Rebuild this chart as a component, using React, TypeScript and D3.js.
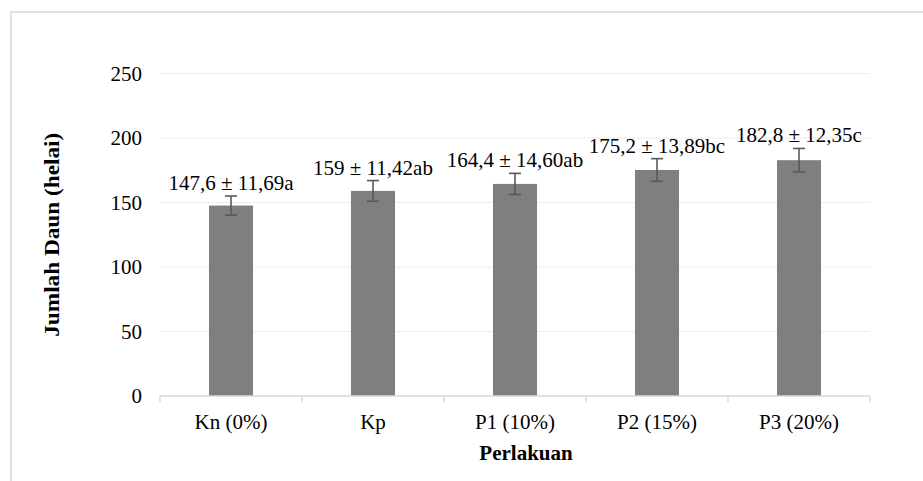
import * as d3 from 'd3';

const categories = ['Kn (0%)', 'Kp', 'P1 (10%)', 'P2 (15%)', 'P3 (20%)'];
const means = [147.6, 159, 164.4, 175.2, 182.8];
const errors = [7.4, 8.0, 8.2, 8.8, 9.1];
const labels = ['147,6 ± 11,69a', '159 ± 11,42ab', '164,4 ± 14,60ab', '175,2 ± 13,89bc', '182,8 ± 12,35c'];
const yTicks = [0, 50, 100, 150, 200, 250];

const W = 923;
const H = 481;
const plot = { left: 160, right: 870, top: 73.5, bottom: 396 };
const font = '"Liberation Serif", "Times New Roman", serif';

export default function App() {
  const x = d3.scaleBand<string>()
    .domain(categories)
    .range([plot.left, plot.right])
    .paddingInner(0.69)
    .paddingOuter(0.345);

  const band = d3.scaleBand<string>().domain(categories).range([plot.left, plot.right]);

  const y = d3.scaleLinear().domain([0, 250]).range([plot.bottom, plot.top]);

  const capW = 12;

  return (
    <svg width={W} height={H} style={{ position: 'absolute', left: 0, top: 0, background: '#fff' }}>
      {/* chart area border */}
      <rect x={11} y={12} width={W + 20} height={H + 20} fill="#fff" stroke="#d9d9d9" strokeWidth={1.5} />

      {/* gridlines */}
      {yTicks.filter(t => t > 0).map(t => (
        <line key={t} x1={plot.left} x2={plot.right} y1={y(t)} y2={y(t)} stroke="#ededed" strokeWidth={1.2} />
      ))}

      {/* y tick labels */}
      {yTicks.map(t => (
        <text key={t} x={142} y={y(t)} dy="0.35em" textAnchor="end" fontFamily={font} fontSize={21} fill="#000">
          {t}
        </text>
      ))}

      {/* bars */}
      {categories.map((c, i) => (
        <rect key={c} x={x(c)} y={y(means[i])} width={x.bandwidth()} height={plot.bottom - y(means[i])} fill="#7f7f7f" />
      ))}

      {/* error bars */}
      {categories.map((c, i) => {
        const cx = (x(c) ?? 0) + x.bandwidth() / 2;
        const hi = y(means[i] + errors[i]);
        const lo = y(means[i] - errors[i]);
        return (
          <g key={c} stroke="#595959" strokeWidth={1.6}>
            <line x1={cx} x2={cx} y1={hi} y2={lo} />
            <line x1={cx - capW / 2} x2={cx + capW / 2} y1={hi} y2={hi} />
            <line x1={cx - capW / 2} x2={cx + capW / 2} y1={lo} y2={lo} />
          </g>
        );
      })}

      {/* value labels */}
      {categories.map((c, i) => (
        <text key={c} x={(x(c) ?? 0) + x.bandwidth() / 2} y={y(means[i] + errors[i]) - 6}
          textAnchor="middle" fontFamily={font} fontSize={21} fill="#000">
          {labels[i]}
        </text>
      ))}

      {/* x axis */}
      <line x1={plot.left} x2={plot.right} y1={plot.bottom} y2={plot.bottom} stroke="#d9d9d9" strokeWidth={1.5} />
      {[...categories.map(c => band(c) ?? 0), plot.right].map((t, i) => (
        <line key={i} x1={t} x2={t} y1={plot.bottom} y2={plot.bottom + 6} stroke="#d9d9d9" strokeWidth={1.5} />
      ))}
      {categories.map(c => (
        <text key={c} x={(band(c) ?? 0) + band.bandwidth() / 2} y={429} textAnchor="middle" fontFamily={font} fontSize={21} fill="#000">
          {c}
        </text>
      ))}

      {/* axis titles */}
      <text x={526} y={460} textAnchor="middle" fontFamily={font} fontSize={21} fontWeight="bold" fill="#000">
        Perlakuan
      </text>
      <text transform={`translate(59,${(plot.top + plot.bottom) / 2}) rotate(-90)`} textAnchor="middle"
        fontFamily={font} fontSize={20} fontWeight="bold" fill="#000"
        textLength={204} lengthAdjust="spacingAndGlyphs">
        Jumlah Daun (helai)
      </text>
    </svg>
  );
}
